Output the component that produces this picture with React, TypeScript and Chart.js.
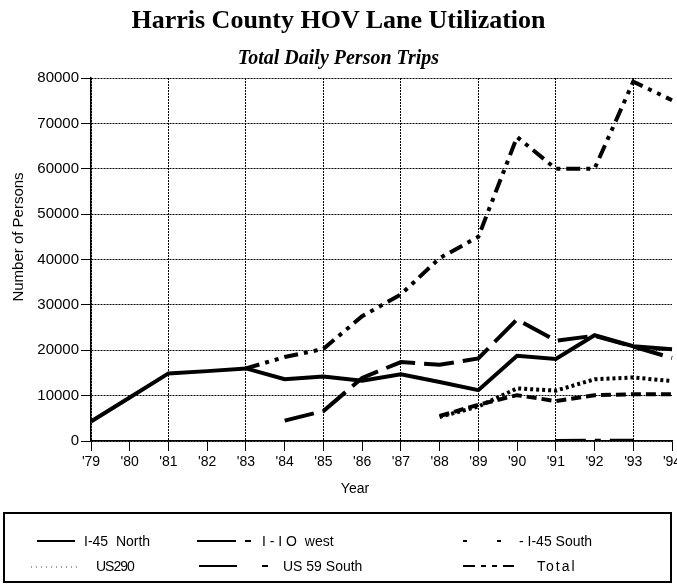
import React, { useEffect, useRef } from "react";
import { Chart, registerables } from "chart.js";

Chart.register(...registerables);

const years = ["'79", "'80", "'81", "'82", "'83", "'84", "'85", "'86", "'87", "'88", "'89", "'90", "'91", "'92", "'93", "'94"];

const i45North = [4300, 9600, 14900, 15400, 16000, 13600, 14200, 13300, 14700, 13000, 11200, 18800, 18100, 23300, 20900, 20200];
const i10West = [null, null, null, null, null, 4500, 6600, 13900, 17400, 16800, 18200, 26800, 22100, 23200, 20800, 18300];
const i45South = [null, null, null, null, null, null, null, null, null, 5500, 8000, 10100, 8800, 10100, 10300, 10300];
const us290 = [null, null, null, null, null, null, null, null, null, 5300, 7600, 11600, 11100, 13600, 14000, 13200];
const us59South = [null, null, null, null, null, null, null, null, null, null, null, null, 200, 300, 300, null];
const total = [null, null, null, null, 16000, 18500, 20300, 27500, 32300, 40300, 45000, 67000, 60000, 60000, 79200, 75100];

const yTicks = [0, 10000, 20000, 30000, 40000, 50000, 60000, 70000, 80000];

const SANS = "'Liberation Sans', Arial, sans-serif";
const SERIF = "'Liberation Serif', 'Times New Roman', serif";

function ChartCanvas() {
  const ref = useRef<HTMLCanvasElement | null>(null);
  useEffect(() => {
    if (!ref.current) return;
    const ds = (label: string, data: (number | null)[], dash: number[], width = 4) => ({
      label,
      data,
      borderColor: "#000",
      backgroundColor: "#000",
      borderWidth: width,
      borderDash: dash,
      pointRadius: 0,
      tension: 0,
      spanGaps: false,
      fill: false,
      borderCapStyle: "butt" as const,
    });
    const chart = new Chart(ref.current, {
      type: "line",
      data: {
        labels: years,
        datasets: [
          ds("I-45 North", i45North, []),
          ds("I-IO west", i10West, [30, 9]),
          ds("I-45 South", i45South, [10, 5]),
          ds("US290", us290, [3, 3]),
          ds("US 59 South", us59South, [30, 9, 6, 9], 2),
          ds("Total", total, [14, 6, 4, 6, 4, 6]),
        ],
      },
      options: {
        animation: false,
        responsive: false,
        maintainAspectRatio: false,
        layout: { padding: { top: 78, right: 18, left: 0, bottom: 0 } },
        plugins: {
          legend: { display: false },
          tooltip: { enabled: false },
          title: { display: false },
        },
        scales: {
          x: {
            type: "category",
            offset: false,
            grid: {
              color: (c: any) => (c.index % 2 === 0 ? "#000" : "rgba(0,0,0,0)"),
              tickColor: "#000",
              lineWidth: 1,
              tickLength: 10,
            },
            border: { color: "#000", width: 1.5, dash: [2, 1] },
            ticks: {
              color: "#000",
              font: { family: SANS, size: 14 },
              maxRotation: 0,
              autoSkip: false,
              padding: 3,
            },
            title: { display: false },
            afterFit: (s: any) => {
              s.height = 59;
            },
          },
          y: {
            min: 0,
            max: 80000,
            afterBuildTicks: (s: any) => {
              s.ticks = yTicks.map((v) => ({ value: v }));
            },
            grid: { color: "#000", tickColor: "#000", lineWidth: 1, tickLength: 10 },
            border: { color: "#000", width: 1.5, dash: [2, 1] },
            ticks: {
              color: "#000",
              font: { family: SANS, size: 15 },
              padding: 2,
              callback: (v: any) => String(v),
            },
            title: { display: false },
            afterFit: (s: any) => {
              s.width = 91;
            },
          },
        },
      },
    });
    return () => chart.destroy();
  }, []);
  return <canvas ref={ref} width={690} height={500} style={{ position: "absolute", left: 0, top: 0, width: 690, height: 500 }} />;
}

const legText: React.CSSProperties = {
  position: "absolute",
  fontFamily: SANS,
  fontSize: 14,
  color: "#000",
  whiteSpace: "pre",
  lineHeight: "16px",
};

function Txt({ x, y, children, style }: { x: number; y: number; children: React.ReactNode; style?: React.CSSProperties }) {
  return <span style={{ ...legText, left: x, top: y - 8, ...style }}>{children}</span>;
}

function Seg({ a, b, y, w = 2 }: { a: number; b: number; y: number; w?: number }) {
  return <line x1={a} x2={b} y1={y} y2={y} stroke="#000" strokeWidth={w} />;
}

export default function App() {
  const r1 = 541;
  const r2 = 566;
  return (
    <div style={{ position: "absolute", left: 0, top: 0, width: 677, height: 588, overflow: "hidden", background: "#fff" }}>
      <ChartCanvas />
      <div style={{ position: "absolute", left: 0, width: 677, top: 5, textAlign: "center", fontFamily: SERIF, fontWeight: "bold", fontSize: 26, lineHeight: "30px", color: "#000" }}>
        Harris County HOV Lane Utilization
      </div>
      <div style={{ position: "absolute", left: 0, width: 677, top: 45, textAlign: "center", fontFamily: SERIF, fontWeight: "bold", fontStyle: "italic", fontSize: 20, lineHeight: "24px", color: "#000" }}>
        Total Daily Person Trips
      </div>
      <div
        style={{
          position: "absolute",
          left: 18 - 90,
          top: 237 - 9,
          width: 180,
          height: 18,
          lineHeight: "18px",
          textAlign: "center",
          transform: "rotate(-90deg)",
          fontFamily: SANS,
          fontSize: 15,
          color: "#000",
          whiteSpace: "nowrap",
        }}
      >
        Number of Persons
      </div>
      <div style={{ position: "absolute", left: 355 - 40, width: 80, top: 479, textAlign: "center", fontFamily: SANS, fontSize: 14, lineHeight: "18px", color: "#000" }}>
        Year
      </div>
      <div style={{ position: "absolute", left: 3, top: 512, width: 665, height: 67, border: "2px solid #000" }} />
      <svg width={677} height={588} style={{ position: "absolute", left: 0, top: 0 }}>
        <Seg a={37} b={75} y={r1} />
        <Seg a={197} b={236} y={r1} />
        <Seg a={245} b={251} y={r1} />
        <Seg a={463} b={467} y={r1} />
        <Seg a={497} b={501} y={r1} />
        <line x1={31} x2={80} y1={r2 + 1} y2={r2 + 1} stroke="#444" strokeWidth={1} strokeDasharray="1 4" />
        <Seg a={199} b={237} y={r2} />
        <Seg a={262} b={268} y={r2} />
        <Seg a={463} b={475} y={r2} />
        <Seg a={481} b={486} y={r2} />
        <Seg a={492} b={497} y={r2} />
        <Seg a={503} b={514} y={r2} />
      </svg>
      <Txt x={84} y={r1}>I-45  North</Txt>
      <Txt x={262} y={r1}>I - I O  west</Txt>
      <Txt x={519} y={r1}>- I-45 South</Txt>
      <Txt x={96} y={r2} style={{ letterSpacing: -1 }}>US290</Txt>
      <Txt x={283} y={r2}>US 59 South</Txt>
      <Txt x={537} y={r2} style={{ letterSpacing: 2 }}>Total</Txt>
    </div>
  );
}
